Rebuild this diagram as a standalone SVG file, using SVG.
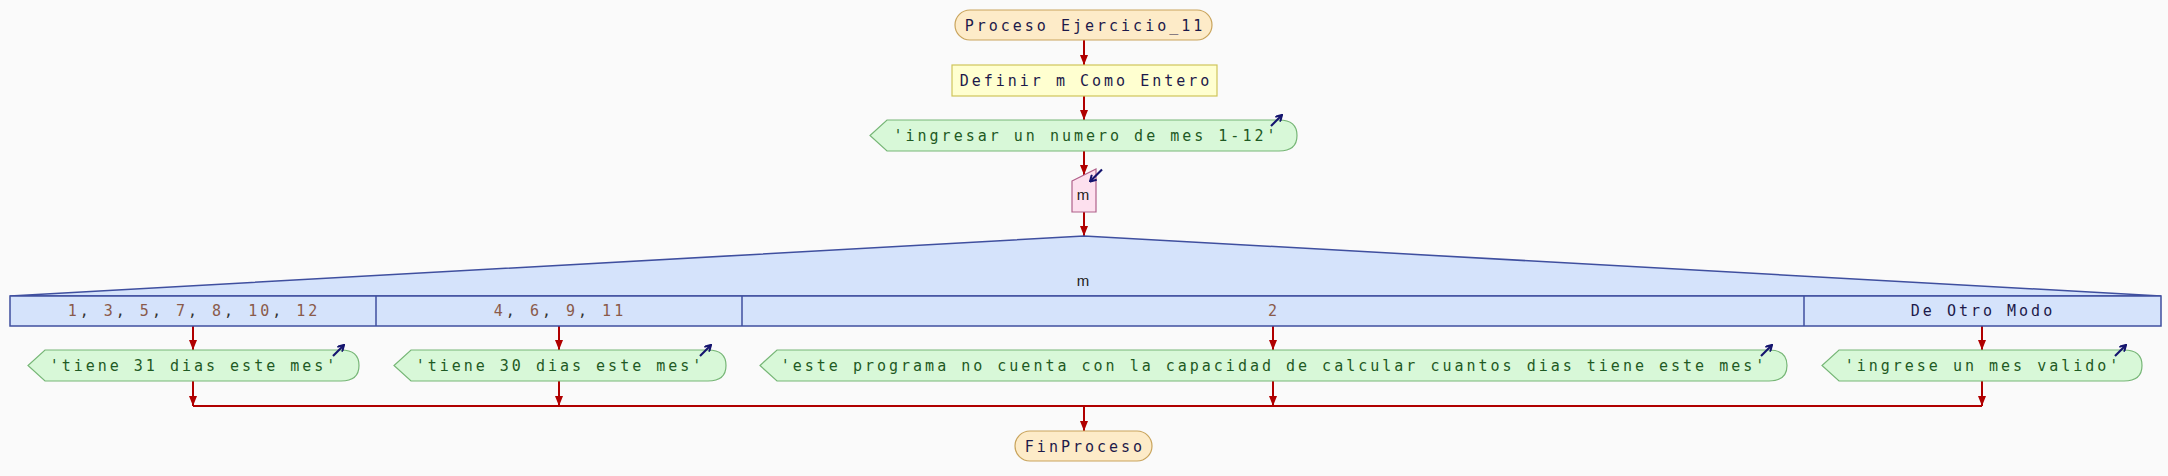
<svg xmlns="http://www.w3.org/2000/svg" width="2168" height="476" viewBox="0 0 2168 476">
<defs>
<style>
.bg{fill:#fafafa}
.term{fill:#fdebc8;stroke:#c9a45c;stroke-width:1.2}
.proc{fill:#ffffd0;stroke:#cfc55a;stroke-width:1.2}
.out{fill:#d8f8d8;stroke:#76b676;stroke-width:1.2}
.inp{fill:#fde0ee;stroke:#b0608a;stroke-width:1.2}
.sw{fill:#d5e3fb;stroke:#3f4f9f;stroke-width:1.5}
.mono{font-family:"DejaVu Sans Mono","Liberation Mono",monospace;font-size:15px;letter-spacing:3px;text-anchor:middle}
.tn{fill:#1d1a4a}
.tg{fill:#1f5a24}
.tb{fill:#8a5a4a}
.tk{fill:#333}
.var{font-family:"Liberation Sans",Arial,sans-serif;font-size:15px;fill:#222;text-anchor:middle}
.flow{stroke:#b00000;stroke-width:2;fill:none}
.icon{stroke:#14146e;stroke-width:2.2;fill:none}
</style>
<marker id="ah" viewBox="0 0 10 8" refX="10" refY="4" markerWidth="10" markerHeight="8" markerUnits="userSpaceOnUse" orient="auto">
<path d="M0,0 L10,4 L0,8 Z" fill="#b00000"/>
</marker>
<marker id="ic" viewBox="0 0 8 8" refX="7" refY="4" markerWidth="8" markerHeight="8" markerUnits="userSpaceOnUse" orient="auto">
<path d="M1,0.5 L7,4 L1,7.5" fill="none" stroke="#14146e" stroke-width="2"/>
</marker>
</defs>
<rect class="bg" x="0" y="0" width="2168" height="476"/>

<g id="connectors">
<line class="flow" x1="1084" y1="40" x2="1084" y2="65" marker-end="url(#ah)"/>
<line class="flow" x1="1084" y1="96" x2="1084" y2="120" marker-end="url(#ah)"/>
<line class="flow" x1="1084" y1="151" x2="1084" y2="175" marker-end="url(#ah)"/>
<line class="flow" x1="1084" y1="212" x2="1084" y2="236" marker-end="url(#ah)"/>
<line class="flow" x1="193" y1="326" x2="193" y2="350" marker-end="url(#ah)"/>
<line class="flow" x1="559" y1="326" x2="559" y2="350" marker-end="url(#ah)"/>
<line class="flow" x1="1273" y1="326" x2="1273" y2="350" marker-end="url(#ah)"/>
<line class="flow" x1="1982" y1="326" x2="1982" y2="350" marker-end="url(#ah)"/>
<line class="flow" x1="193" y1="381" x2="193" y2="406" marker-end="url(#ah)"/>
<line class="flow" x1="559" y1="381" x2="559" y2="406" marker-end="url(#ah)"/>
<line class="flow" x1="1273" y1="381" x2="1273" y2="406" marker-end="url(#ah)"/>
<line class="flow" x1="1982" y1="381" x2="1982" y2="406" marker-end="url(#ah)"/>
<line class="flow" x1="193" y1="406" x2="1982" y2="406"/>
<line class="flow" x1="1084" y1="406" x2="1084" y2="431" marker-end="url(#ah)"/>
</g>

<g id="inicio">
<rect class="term" x="955" y="10" width="257" height="30" rx="15" ry="15"/>
<text class="mono tn" x="1085" y="30.5">Proceso Ejercicio_11</text>
</g>

<g id="definir">
<rect class="proc" x="952" y="65" width="265" height="31"/>
<text class="mono tn" x="1086" y="86">Definir m Como Entero</text>
</g>

<g id="escribir1">
<path class="out" d="M887,120 L1279,120 Q1297,120 1297,135.5 Q1297,151 1279,151 L887,151 L870,135.5 Z"/>
<text class="mono tg" x="1086" y="141">'ingresar un numero de mes 1-12'</text>
<line class="icon" x1="1271" y1="126" x2="1282" y2="115" marker-end="url(#ic)"/>
</g>

<g id="leer">
<path class="inp" d="M1072,181 L1096,169 L1096,212 L1072,212 Z"/>
<text class="var" x="1083" y="200">m</text>
<line class="icon" x1="1102" y1="169.5" x2="1090" y2="181.5" marker-end="url(#ic)"/>
</g>

<g id="segun">
<path class="sw" d="M10,296 L1084,236 L2161,296 Z"/>
<text class="var" x="1083" y="286">m</text>
<rect class="sw" x="10" y="296" width="2151" height="30"/>
<line class="sw" x1="376" y1="296" x2="376" y2="326"/>
<line class="sw" x1="742" y1="296" x2="742" y2="326"/>
<line class="sw" x1="1804" y1="296" x2="1804" y2="326"/>
<text class="mono tb" x="194" y="316">1<tspan class="tk">, </tspan>3<tspan class="tk">, </tspan>5<tspan class="tk">, </tspan>7<tspan class="tk">, </tspan>8<tspan class="tk">, </tspan>10<tspan class="tk">, </tspan>12</text>
<text class="mono tb" x="560" y="316">4<tspan class="tk">, </tspan>6<tspan class="tk">, </tspan>9<tspan class="tk">, </tspan>11</text>
<text class="mono tb" x="1274" y="316">2</text>
<text class="mono tn" x="1983" y="316">De Otro Modo</text>
</g>

<g id="escribir2">
<path class="out" d="M45,350 L341,350 Q359,350 359,365.5 Q359,381 341,381 L45,381 L28,365.5 Z"/>
<text class="mono tg" x="194" y="371">'tiene 31 dias este mes'</text>
<line class="icon" x1="333" y1="356" x2="344" y2="345" marker-end="url(#ic)"/>
</g>

<g id="escribir3">
<path class="out" d="M411,350 L708,350 Q726,350 726,365.5 Q726,381 708,381 L411,381 L394,365.5 Z"/>
<text class="mono tg" x="560" y="371">'tiene 30 dias este mes'</text>
<line class="icon" x1="700" y1="356" x2="711" y2="345" marker-end="url(#ic)"/>
</g>

<g id="escribir4">
<path class="out" d="M777,350 L1769,350 Q1787,350 1787,365.5 Q1787,381 1769,381 L777,381 L760,365.5 Z"/>
<text class="mono tg" x="1274" y="371">'este programa no cuenta con la capacidad de calcular cuantos dias tiene este mes'</text>
<line class="icon" x1="1761" y1="356" x2="1772" y2="345" marker-end="url(#ic)"/>
</g>

<g id="escribir5">
<path class="out" d="M1839,350 L2124,350 Q2142,350 2142,365.5 Q2142,381 2124,381 L1839,381 L1822,365.5 Z"/>
<text class="mono tg" x="1983" y="371">'ingrese un mes valido'</text>
<line class="icon" x1="2115" y1="356" x2="2126" y2="345" marker-end="url(#ic)"/>
</g>

<g id="fin">
<rect class="term" x="1015" y="431" width="137" height="30" rx="15" ry="15"/>
<text class="mono tn" x="1085" y="451.5">FinProceso</text>
</g>
</svg>
